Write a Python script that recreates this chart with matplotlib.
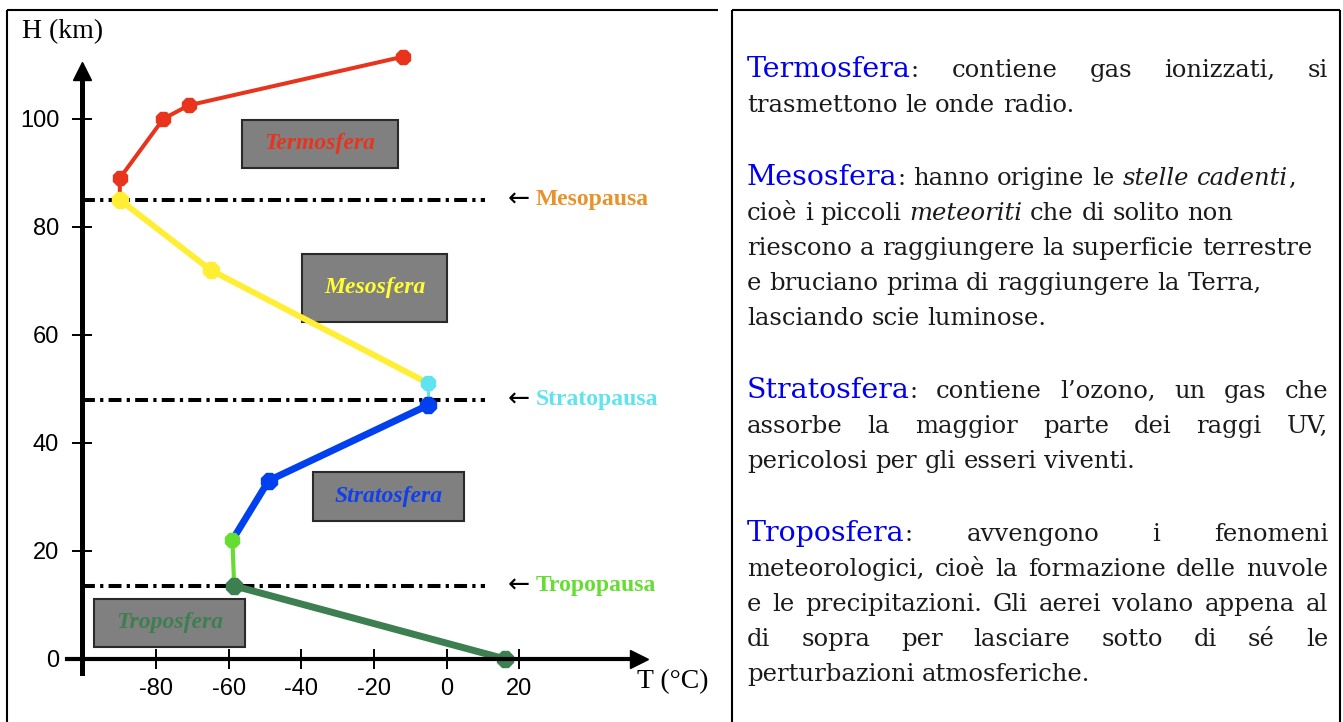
import matplotlib
matplotlib.use("Agg")
import matplotlib.pyplot as plt
from matplotlib.patches import Rectangle

plt.rcParams["axes.unicode_minus"] = False

# profilo termico: temperatura (°C) e quota (km), un tratto per strato
termo_t = [-90, -90, -78, -71, -12]
termo_h = [85, 89, 100, 102.5, 111.5]
meso_t = [-90, -65, -5]
meso_h = [85, 72, 51]
stratop_t = [-5, -5]
stratop_h = [51, 47]
strato_t = [-5, -49, -59]
strato_h = [47, 33, 22]
tropop_t = [-59, -58.5]
tropop_h = [22, 13.5]
tropo_t = [-58.5, 16]
tropo_h = [13.5, 0]

x_ticks = [-80, -60, -40, -20, 0, 20]
y_ticks = [0, 20, 40, 60, 80, 100]

pause_names = ["Mesopausa", "Stratopausa", "Tropopausa"]
pause_h = [85, 48, 13.5]
pause_colors = ["#e8922a", "#5fe3f0", "#66dd33"]

layer_names = ["Termosfera", "Mesosfera", "Stratosfera", "Troposfera"]
layer_colors = ["#e8341c", "#ffff33", "#1040ee", "#3d7f50"]
layer_box_t = [(-56.4, -13.4), (-39.8, 0.1), (-36.8, 4.8), (-97.1, -55.5)]
layer_box_h = [(90.9, 99.8), (62.4, 75.0), (25.5, 34.6), (2.2, 11.1)]

# testo a destra: {..} = nome dello strato, *..* = corsivo
paragraphs = [
    ["{Termosfera}: contiene gas ionizzati, si",
     "trasmettono le onde radio."],
    ["{Mesosfera}: hanno origine le *stelle cadenti*,",
     "cioè i piccoli *meteoriti* che di solito non",
     "riescono a raggiungere la superficie terrestre",
     "e bruciano prima di raggiungere la Terra,",
     "lasciando scie luminose."],
    ["{Stratosfera}: contiene l’ozono, un gas che",
     "assorbe la maggior parte dei raggi UV,",
     "pericolosi per gli esseri viventi."],
    ["{Troposfera}: avvengono i fenomeni",
     "meteorologici, cioè la formazione delle nuvole",
     "e le precipitazioni. Gli aerei volano appena al",
     "di sopra per lasciare sotto di sé le",
     "perturbazioni atmosferiche."],
]
justified = [True, False, True, True]

fig = plt.figure(figsize=(13.43, 7.22), dpi=100)

# cornice della tabella, coordinate in pixel
fr = fig.add_axes([0, 0, 1, 1])
fr.set_xlim(0, 1343)
fr.set_ylim(722, 0)
fr.axis("off")
for xs, ys in [([7, 718], [9.5, 9.5]), ([7, 7], [9.5, 722]),
               ([732, 1340], [9.5, 9.5]), ([732, 732], [9.5, 722]),
               ([1340, 1340], [9.5, 722])]:
    fr.plot(xs, ys, color="black", lw=1.5, solid_capstyle="butt")

# grafico
ax = fig.add_axes([0, 0, 720 / 1343, 1])
ax.patch.set_alpha(0)
ax.set_xlim(-123.0, 75.3)
ax.set_ylim(-11.7, 122.0)

for s in ["top", "right"]:
    ax.spines[s].set_visible(False)
ax.spines["left"].set_position(("data", -100.4))
ax.spines["bottom"].set_position(("data", 0))
ax.spines["left"].set_bounds(-2.6, 109)
ax.spines["bottom"].set_bounds(-104.5, 53)
ax.spines["left"].set_linewidth(3.6)
ax.spines["bottom"].set_linewidth(3.0)
ax.set_xticks(x_ticks)
ax.set_yticks(y_ticks)
ax.tick_params(direction="inout", length=15, width=1.4, labelsize=17, pad=6)
ax.tick_params(axis="y", pad=9)
for lab in ax.get_xticklabels() + ax.get_yticklabels():
    lab.set_fontfamily("Liberation Sans")

ax.plot(-100.4, 108.8, marker="^", ms=13, color="black", clip_on=False)
ax.plot(53.0, 0, marker=">", ms=13, color="black", clip_on=False)
ax.text(-116.9, 116.1, "H (km)", fontsize=20, family="Liberation Serif",
        ha="left", va="center")
ax.text(52.4, -4.3, "T (°C)", fontsize=20, family="Liberation Serif",
        ha="left", va="center")

# linee delle pause
for name, h, c in zip(pause_names, pause_h, pause_colors):
    ax.hlines(h, -100.4, 10.6, colors="black", lw=2.9,
              linestyles=[(0, (3.2, 1.3, 0.8, 1.3))])
    ax.text(16.8, h, "←", fontsize=19, family="DejaVu Sans", ha="left",
            va="center")
    ax.text(24.6, h, name, fontsize=17, family="Liberation Serif",
            weight="bold", color=c, ha="left", va="center")

# riquadri con i nomi degli strati
for name, c, bt, bh in zip(layer_names, layer_colors, layer_box_t, layer_box_h):
    ax.add_patch(Rectangle((bt[0], bh[0]), bt[1] - bt[0], bh[1] - bh[0],
                           facecolor="#808080", edgecolor="#2a2a2a", lw=1.5))
    ax.text((bt[0] + bt[1]) / 2, (bh[0] + bh[1]) / 2, name, color=c,
            fontsize=17, family="Liberation Serif", style="italic",
            weight="bold", ha="center", va="center")

# profilo
ax.plot(termo_t, termo_h, color="#e8341c", lw=2.9, marker="8", ms=11,
        markevery=[1, 2, 3, 4], clip_on=False)
ax.plot(meso_t, meso_h, color="#ffee33", lw=4.3, marker="8", ms=12,
        markevery=[0, 1])
ax.plot(stratop_t, stratop_h, color="#5fe3f0", lw=2.2, marker="8", ms=11,
        markevery=[0])
ax.plot(strato_t, strato_h, color="#0040ee", lw=5, marker="8", ms=12,
        markevery=[0, 1])
ax.plot(tropop_t, tropop_h, color="#66dd33", lw=3, marker="8", ms=11,
        markevery=[0])
ax.plot(tropo_t, tropo_h, color="#3d7f50", lw=5, marker="8", ms=12,
        markevery=[0, 1], clip_on=False)

# testo giustificato a destra
renderer = fig.canvas.get_renderer()
body_size = 17.5
head_size = 20.5
x0, x1 = 747, 1328


def parse(line, state):
    words = []
    for raw in line.split(" "):
        segs, buf = [], ""
        for ch in raw:
            if ch in "*{}":
                if buf:
                    segs.append((buf, state["it"], state["head"]))
                    buf = ""
                if ch == "*":
                    state["it"] = not state["it"]
                else:
                    state["head"] = ch == "{"
            else:
                buf += ch
        if buf:
            segs.append((buf, state["it"], state["head"]))
        words.append(segs)
    return words


def width(t):
    return t.get_window_extent(renderer).width


probe_a = fr.text(0, 0, "n n", fontsize=body_size, family="DejaVu Serif")
probe_b = fr.text(0, 0, "nn", fontsize=body_size, family="DejaVu Serif")
space = width(probe_a) - width(probe_b)
probe_a.remove()
probe_b.remove()

y = 77
for pi, (para, just) in enumerate(zip(paragraphs, justified)):
    state = {"it": False, "head": False}
    for li, line in enumerate(para):
        words = parse(line, state)
        placed = []
        for segs in words:
            objs = []
            for txt, it, head in segs:
                t = fr.text(0, y, txt, family="DejaVu Serif",
                            fontsize=head_size if head else body_size,
                            style="italic" if it else "normal",
                            color="#0000ee" if head else "#1a1a1a",
                            ha="left", va="baseline")
                objs.append((t, width(t)))
            placed.append(objs)
        wsum = [sum(w for _, w in objs) for objs in placed]
        last = li == len(para) - 1
        if just and not last and len(placed) > 1:
            gap = (x1 - x0 - sum(wsum)) / (len(placed) - 1)
        else:
            gap = space
        x = x0
        for objs, ww in zip(placed, wsum):
            xx = x
            for t, w in objs:
                t.set_x(xx)
                xx += w
            x += ww + gap
        y += 35
    y += 38

fig.savefig("out.png", dpi=100)
